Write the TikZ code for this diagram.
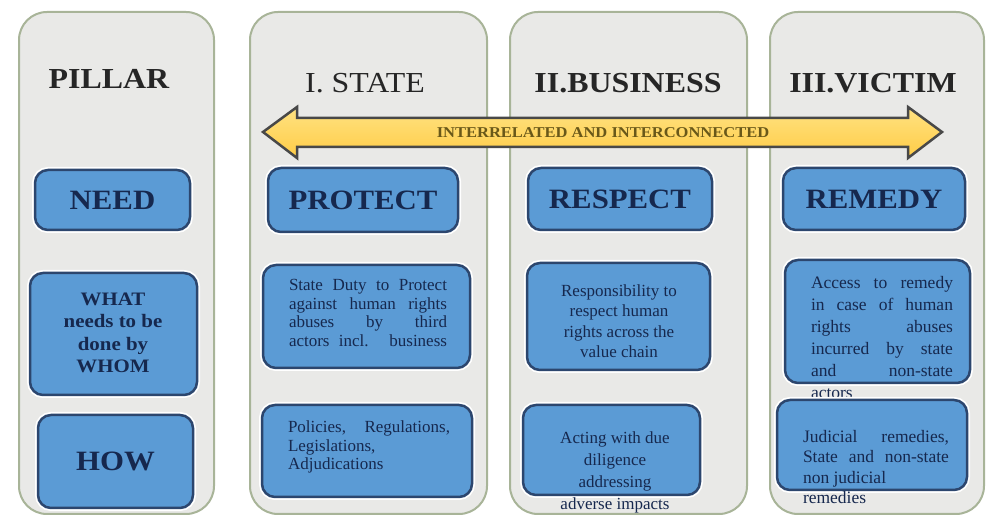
\documentclass[tikz,border=0pt]{standalone}
\usepackage{fontspec}
\setmainfont{Liberation Serif}
\newfontfamily\headfont[FakeStretch=1.1]{Liberation Serif}

\definecolor{panelfill}{RGB}{233,233,231}
\definecolor{paneledge}{RGB}{168,180,152}
\definecolor{boxfill}{RGB}{91,155,213}
\definecolor{boxedge}{RGB}{44,70,110}
\definecolor{boxtext}{RGB}{22,40,78}
\definecolor{arrowfill}{RGB}{255,204,70}
\definecolor{arrowlight}{RGB}{255,226,130}
\definecolor{arrowedge}{RGB}{72,72,72}
\definecolor{arrowtext}{RGB}{105,88,25}

\begin{document}
\begin{tikzpicture}[x=1pt,y=-1pt,
    panel/.style={draw=paneledge, fill=panelfill, line width=2pt, rounded corners=28pt},
    pbox/.style={draw=boxedge, fill=boxfill, line width=2.5pt, rounded corners=13pt,
        preaction={draw=white, line width=6pt}},
    head/.style={font=\headfont\fontsize{29}{32}\selectfont, text=black!85},
    boxname/.style={font=\headfont\bfseries\fontsize{28}{30}\selectfont, text=boxtext},
    smalltext/.style={font=\fontsize{17}{18.5}\selectfont, text=boxtext, inner sep=0pt}]

    \fill[white] (0,0) rectangle (986,518);
    \useasboundingbox (0,0) rectangle (986,518);

    % Panels
    \foreach \xa/\xb in {19/214, 250/487, 510/747, 770/984}
        \draw[panel] (\xa,12) rectangle (\xb,514);

    % Headers
    \node (pillar)   at (109,79) [head] {\bfseries PILLAR};
    \node (state)    at (365,83) [head] {I. STATE};
    \node (business) at (628,83) [head] {\bfseries II.BUSINESS};
    \node (victim)   at (873,83) [head] {\bfseries III.VICTIM};

    % Double arrow across the three pillars
    \draw[arrowedge, top color=arrowlight, bottom color=arrowfill, line width=2.5pt, line join=miter]
        (263,132) -- (297,107) -- (297,118) -- (908,118) -- (908,107) -- (942,132)
        -- (908,158) -- (908,147) -- (297,147) -- (297,158) -- cycle;
    \node (link) at (603,133) [font=\headfont\bfseries\fontsize{15}{15}\selectfont, text=arrowtext]
        {INTERRELATED AND INTERCONNECTED};

    % First row
    \node (need)    at (112.5,200) [pbox, minimum width=155, minimum height=60] {};
    \node (needt)   at (need.center) [boxname] {NEED};
    \node (protect) at (363,200) [pbox, minimum width=190, minimum height=64] {};
    \node (protectt) at (protect.center) [boxname] {PROTECT};
    \node (respect) at (620,199) [pbox, minimum width=184, minimum height=62] {};
    \node (respectt) at (respect.center) [boxname] {RESPECT};
    \node (remedy)  at (874,199) [pbox, minimum width=182, minimum height=62] {};
    \node (remedyt) at (remedy.center) [boxname] {REMEDY};

    % Second row
    \node (what) at (113.5,334) [pbox, minimum width=167, minimum height=122] {};
    \node (whatt) at (113,333) [font=\headfont\bfseries\fontsize{19}{22.5}\selectfont, text=boxtext, align=center]
        {WHAT\\ needs to be\\ done by\\ WHOM};
    \node (duty) at (366.5,316.5) [pbox, minimum width=207, minimum height=103] {};
    \node (dutyt) at (368,313) [smalltext, text width=158, align=justify]
        {\parfillskip=0pt State Duty to Protect\linebreak against human rights\linebreak abuses by third\linebreak actors incl. business\par};
    \node (resp) at (618.5,316.5) [pbox, minimum width=183, minimum height=107] {};
    \node (respt) at (619,321) [smalltext, font=\fontsize{17}{20.5}\selectfont, align=center]
        {Responsibility to\\ respect human\\ rights across the\\ value chain};
    \node (access) at (877.5,321.5) [pbox, minimum width=185, minimum height=123] {};
    \node (accesst) at (882,338) [smalltext, font=\fontsize{17.5}{22}\selectfont, text width=142, align=justify]
        {Access to remedy\linebreak in case of human\linebreak rights abuses\linebreak incurred by state\linebreak and non-state\linebreak actors};

    % Third row
    \node (how) at (115.5,461.5) [pbox, minimum width=155, minimum height=93] {};
    \node (howt) at (how.center) [boxname] {HOW};
    \node (policy) at (367,451) [pbox, minimum width=210, minimum height=92] {};
    \node (policyt) at (369,447) [smalltext, text width=162, align=justify]
        {Policies, Regulations,\linebreak Legislations,\\ Adjudications};
    \node (acting) at (611.5,450) [pbox, minimum width=177, minimum height=90] {};
    \node (actingt) at (615,472) [smalltext, font=\fontsize{17}{22}\selectfont, align=center]
        {Acting with due\\ diligence\\ addressing\\ adverse impacts};
    \node (judicial) at (872,445) [pbox, minimum width=190, minimum height=90] {};
    \node (judicialt) at (876,467) [smalltext, font=\fontsize{17.5}{20.5}\selectfont, text width=146, align=justify]
        {Judicial remedies,\linebreak State and non-state\linebreak non judicial\\ remedies};
\end{tikzpicture}
\end{document}
